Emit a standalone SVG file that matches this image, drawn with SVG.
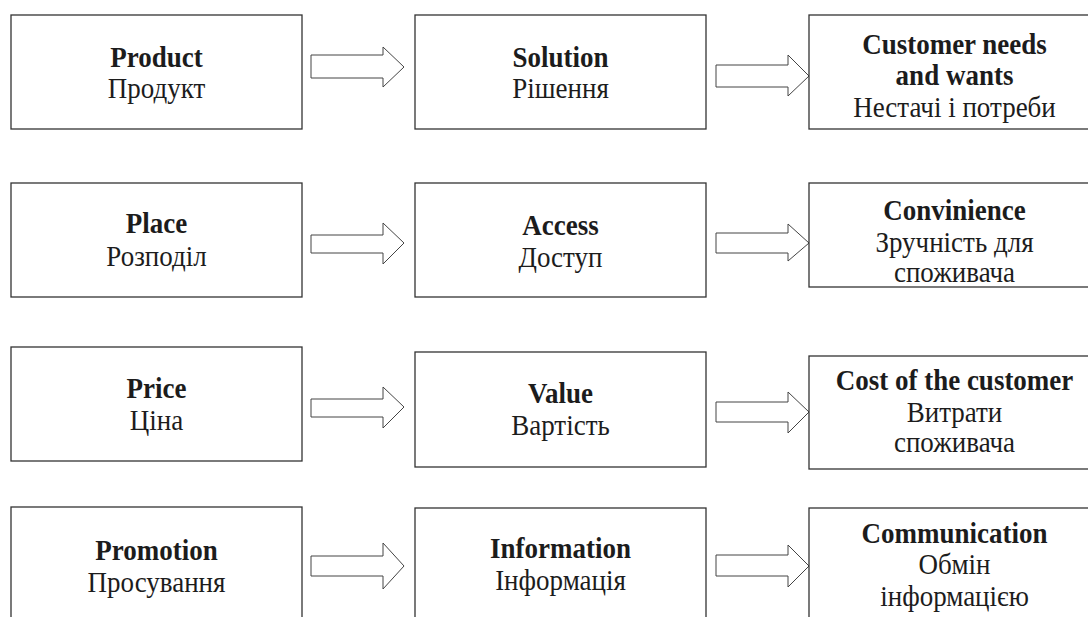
<svg xmlns="http://www.w3.org/2000/svg" width="1088" height="617" viewBox="0 0 1088 617">
<style>
.box{fill:#fff;stroke:#333;stroke-width:1.3}
.arr{fill:#fff;stroke:#444;stroke-width:1}
text{font-family:"Liberation Serif","Times New Roman","DejaVu Serif",serif;font-size:27px;fill:#1c1c1c;text-anchor:middle}
.b{font-weight:bold}
</style>
<rect width="1088" height="617" fill="#fff"/>
<g id="connectors">
<polygon class="arr" points="311,55 383,55 383,47 404,67 383,87 383,78 311,78"/>
<polygon class="arr" points="716,65 788,65 788,55 809,76 788,96 788,87 716,87"/>
<polygon class="arr" points="311,235 383,235 383,223 404,243 383,264 383,253 311,253"/>
<polygon class="arr" points="716,233 788,233 788,224 809,243 788,261 788,253 716,253"/>
<polygon class="arr" points="311,399 383,399 383,387 404,407 383,428 383,417 311,417"/>
<polygon class="arr" points="716,402 788,402 788,392 809,412 788,433 788,422 716,422"/>
<polygon class="arr" points="311,556 383,556 383,543 404,566 383,589 383,576 311,576"/>
<polygon class="arr" points="716,555 788,555 788,545 809,566 788,587 788,576 716,576"/>
</g>
<g id="product"><rect class="box" x="11" y="15" width="291" height="114"/>
<text class="b" transform="translate(156.5 67) scale(1 1.1)">Product</text>
<text transform="translate(156.5 98) scale(1 1.1)">Продукт</text></g>
<g id="solution"><rect class="box" x="415" y="15" width="291" height="114"/>
<text class="b" transform="translate(560.5 67) scale(1 1.1)">Solution</text>
<text transform="translate(560.5 98) scale(1 1.1)">Рішення</text></g>
<g id="needs"><rect class="box" x="809" y="15" width="291" height="114"/>
<text class="b" transform="translate(954.5 54) scale(1 1.1)">Customer needs</text>
<text class="b" transform="translate(954.5 85) scale(1 1.1)">and wants</text>
<text transform="translate(954.5 117) scale(1 1.1)">Нестачі і потреби</text></g>
<g id="place"><rect class="box" x="11" y="183" width="291" height="114"/>
<text class="b" transform="translate(156.5 233) scale(1 1.1)">Place</text>
<text transform="translate(156.5 266) scale(1 1.1)">Розподіл</text></g>
<g id="access"><rect class="box" x="415" y="183" width="291" height="114"/>
<text class="b" transform="translate(560.5 235) scale(1 1.1)">Access</text>
<text transform="translate(560.5 267) scale(1 1.1)">Доступ</text></g>
<g id="convenience"><rect class="box" x="809" y="183" width="291" height="104"/>
<text class="b" transform="translate(954.5 220) scale(1 1.1)">Convinience</text>
<text transform="translate(954.5 252) scale(1 1.1)">Зручність для</text>
<text transform="translate(954.5 282) scale(1 1.1)">споживача</text></g>
<g id="price"><rect class="box" x="11" y="347" width="291" height="114"/>
<text class="b" transform="translate(156.5 398) scale(1 1.1)">Price</text>
<text transform="translate(156.5 430) scale(1 1.1)">Ціна</text></g>
<g id="value"><rect class="box" x="415" y="352" width="291" height="115"/>
<text class="b" transform="translate(560.5 403) scale(1 1.1)">Value</text>
<text transform="translate(560.5 435) scale(1 1.1)">Вартість</text></g>
<g id="cost"><rect class="box" x="809" y="356" width="291" height="113"/>
<text class="b" transform="translate(954.5 390) scale(1 1.1)">Cost of the customer</text>
<text transform="translate(954.5 422) scale(1 1.1)">Витрати</text>
<text transform="translate(954.5 452) scale(1 1.1)">споживача</text></g>
<g id="promotion"><rect class="box" x="11" y="507" width="291" height="120"/>
<text class="b" transform="translate(156.5 560) scale(1 1.1)">Promotion</text>
<text transform="translate(156.5 592) scale(1 1.1)">Просування</text></g>
<g id="information"><rect class="box" x="415" y="508" width="291" height="120"/>
<text class="b" transform="translate(560.5 558) scale(1 1.1)">Information</text>
<text transform="translate(560.5 590) scale(1 1.1)">Інформація</text></g>
<g id="communication"><rect class="box" x="809" y="508" width="291" height="120"/>
<text class="b" transform="translate(954.5 543) scale(1 1.1)">Communication</text>
<text transform="translate(954.5 574) scale(1 1.1)">Обмін</text>
<text transform="translate(954.5 606) scale(1 1.1)">інформацією</text></g>
</svg>
